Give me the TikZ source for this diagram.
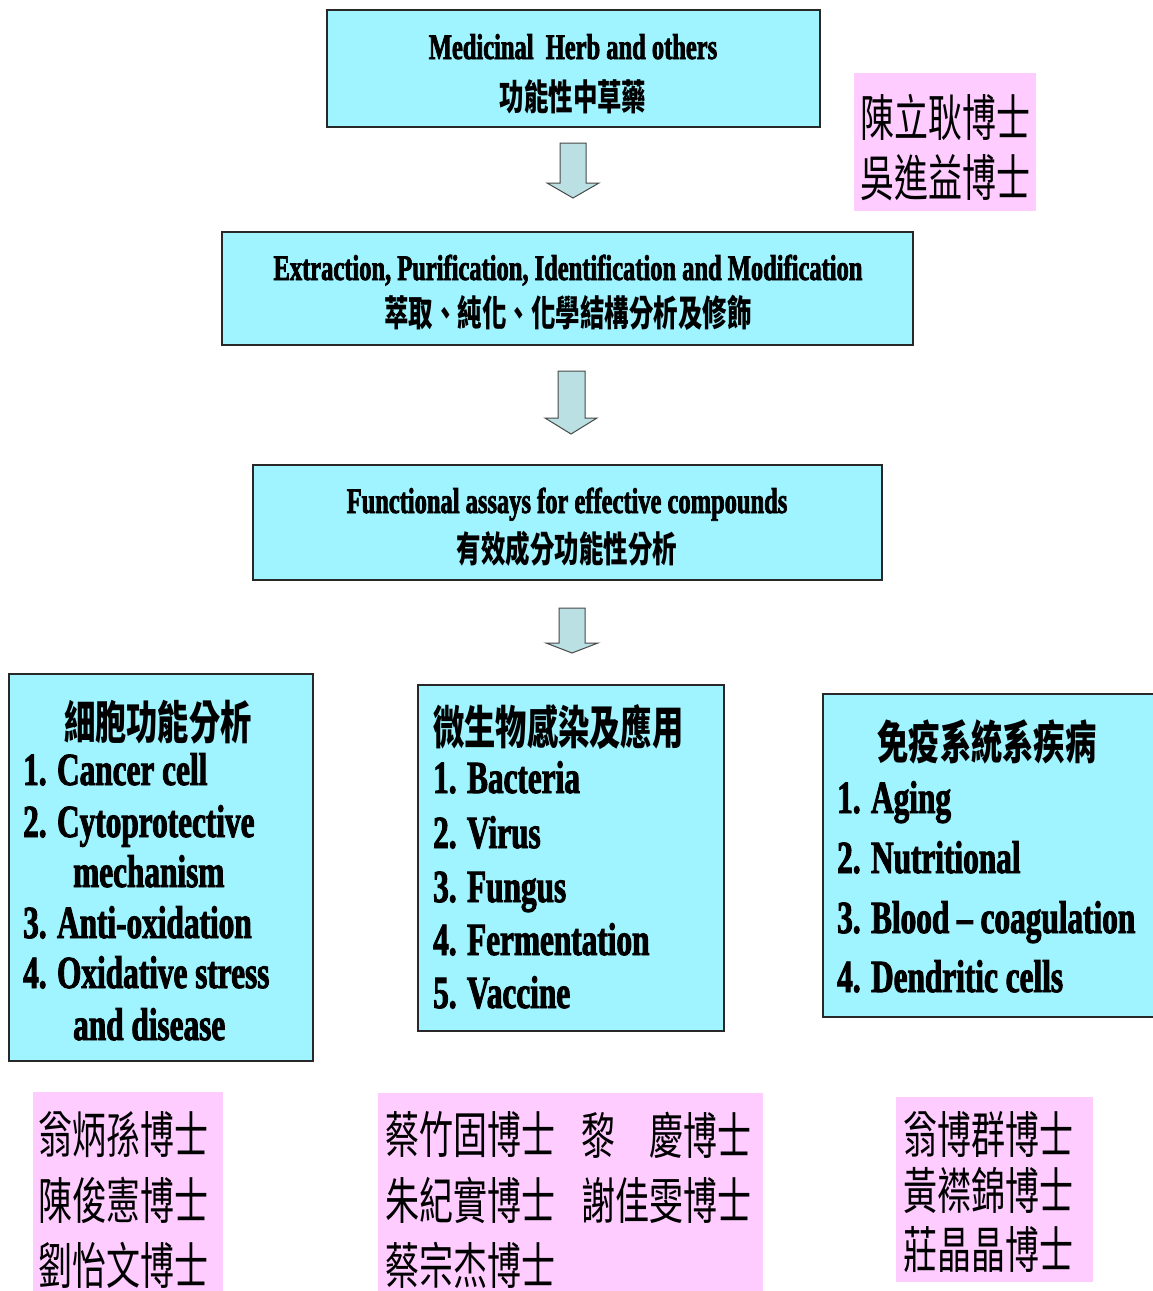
\documentclass[tikz,border=0pt]{standalone}
\usepackage{fontspec}
\setmainfont[FakeStretch=0.68, BoldFont={Liberation Serif Bold}, BoldFeatures={FakeStretch=0.68, FakeBold=2}]{Liberation Serif}
\newfontfamily\cjk[FakeStretch=0.68]{Noto Sans CJK TC}
\definecolor{cyanfill}{RGB}{160,244,255}
\definecolor{pinkfill}{RGB}{255,204,255}
\definecolor{arrowfill}{RGB}{187,224,227}
\definecolor{edgec}{RGB}{40,40,40}
\tikzset{
 cbox/.style={draw=edgec, line width=1.5pt, fill=cyanfill, inner sep=0pt, outer sep=0pt, anchor=north west},
 pbox/.style={fill=pinkfill, inner sep=0pt, outer sep=0pt, anchor=north west},
 barrow/.style={draw=edgec!85, line width=1pt, fill=arrowfill, line join=miter},
 headtxt/.style={font=\fontsize{36}{36}\selectfont\bfseries, inner sep=0pt, anchor=base},
 headcjk/.style={font=\fontsize{36}{36}\selectfont\cjk\bfseries, inner sep=0pt},
 itemtxt/.style={font=\fontsize{46}{46}\selectfont\bfseries, inner sep=0pt, anchor=base west},
 titletxt/.style={font=\fontsize{46}{46}\selectfont\cjk\bfseries, inner sep=0pt},
 nametxt/.style={font=\fontsize{50}{50}\selectfont\cjk, inner sep=0pt, anchor=west},
}
\begin{document}
\begin{tikzpicture}[x=1pt,y=-1pt]
\useasboundingbox (0,0) rectangle (1152,1291);
\fill[white] (0,0) rectangle (1152,1291);
% top boxes
\node[cbox, minimum width=493pt, minimum height=117pt] (b1) at (327,10) {};
\node[headtxt] (b1a) at (573,59) {Medicinal\ \ Herb and others};
\node[headcjk] (b1b) at (573,97) {功能性中草藥};

\node[cbox, minimum width=691pt, minimum height=113pt] (b2) at (222,232) {};
\node[headtxt] (b2a) at (568,280) {Extraction, Purification, Identification and Modification};
\node[headcjk] (b2b) at (568,313) {萃取、純化、化學結構分析及修飾};

\node[cbox, minimum width=629pt, minimum height=115pt] (b3) at (253,465) {};
\node[headtxt] (b3a) at (567,513) {Functional assays for effective compounds};
\node[headcjk] (b3b) at (567,549) {有效成分功能性分析};

% block arrows
\draw[barrow] (560,143) -- (586,143) -- (586,183) -- (599,183) -- (573,198) -- (547,183) -- (560,183) -- cycle;
\draw[barrow] (558,371) -- (585,371) -- (585,418) -- (597,418) -- (571,434) -- (545,418) -- (558,418) -- cycle;
\draw[barrow] (559,608) -- (585,608) -- (585,643) -- (598,643) -- (572,653) -- (546,643) -- (559,643) -- cycle;

% lower boxes
\node[cbox, minimum width=304pt, minimum height=387pt] (b4) at (9,674) {};
\node[titletxt] (b4t) at (158,722) {細胞功能分析};
\node[itemtxt] (b4i1) at (23,785) {1. Cancer cell};
\node[itemtxt] (b4i2) at (23,837) {2. Cytoprotective};
\node[itemtxt] (b4i2b) at (73,887) {mechanism};
\node[itemtxt] (b4i3) at (23,938) {3. Anti-oxidation};
\node[itemtxt] (b4i4) at (23,988) {4. Oxidative stress};
\node[itemtxt] (b4i4b) at (73,1040) {and disease};

\node[cbox, minimum width=306pt, minimum height=346pt] (b5) at (418,685) {};
\node[titletxt, anchor=west] (b5t) at (433,727) {微生物感染及應用};
\node[itemtxt] (b5i1) at (433,793) {1. Bacteria};
\node[itemtxt] (b5i2) at (433,848) {2. Virus};
\node[itemtxt] (b5i3) at (433,902) {3. Fungus};
\node[itemtxt] (b5i4) at (433,955) {4. Fermentation};
\node[itemtxt] (b5i5) at (433,1008) {5. Vaccine};

\node[cbox, minimum width=340pt, minimum height=323pt] (b6) at (823,694) {};
\node[titletxt] (b6t) at (987,742) {免疫系統系疾病};
\node[itemtxt] (b6i1) at (837,813) {1. Aging};
\node[itemtxt] (b6i2) at (837,873) {2. Nutritional};
\node[itemtxt] (b6i3) at (837,933) {3. Blood – coagulation};
\node[itemtxt] (b6i4) at (837,992) {4. Dendritic cells};

% pink name boxes
\node[pbox, minimum width=182pt, minimum height=138pt] (p1) at (854,73) {};
\node[nametxt] (p1a) at (860,117) {陳立耿博士};
\node[nametxt] (p1b) at (860,178) {吳進益博士};

\node[pbox, minimum width=190pt, minimum height=200pt] (p2) at (33,1092) {};
\node[nametxt] (p2a) at (38,1135) {翁炳孫博士};
\node[nametxt] (p2b) at (38,1200) {陳俊憲博士};
\node[nametxt] (p2c) at (38,1265) {劉怡文博士};

\node[pbox, minimum width=385pt, minimum height=199pt] (p3) at (378,1093) {};
\node[nametxt] (p3a) at (385,1135) {蔡竹固博士};
\node[nametxt] (p3b) at (581,1135) {黎　慶博士};
\node[nametxt] (p3c) at (385,1200) {朱紀實博士};
\node[nametxt] (p3d) at (581,1200) {謝佳雯博士};
\node[nametxt] (p3e) at (385,1265) {蔡宗杰博士};

\node[pbox, minimum width=197pt, minimum height=185pt] (p4) at (896,1097) {};
\node[nametxt] (p4a) at (903,1134) {翁博群博士};
\node[nametxt] (p4b) at (903,1190) {黃襟錦博士};
\node[nametxt] (p4c) at (903,1250) {莊晶晶博士};
\end{tikzpicture}
\end{document}
